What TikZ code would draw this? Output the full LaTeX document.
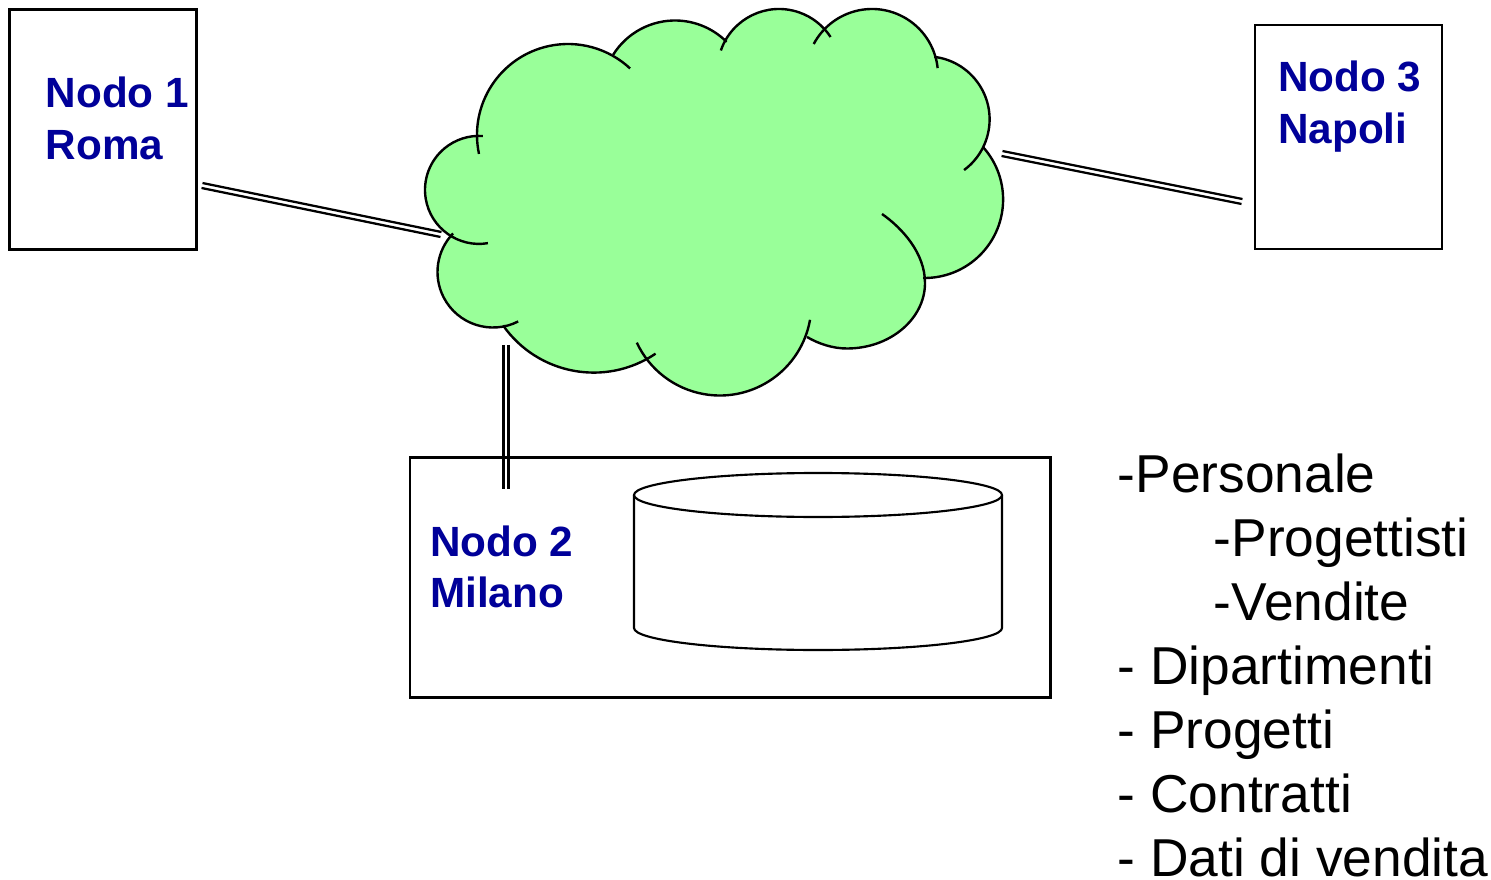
\documentclass[tikz,border=0pt]{standalone}
\usepackage{fontspec}
\usetikzlibrary{calc}
\setmainfont{Liberation Sans}
\definecolor{cloudgreen}{HTML}{99FF99}
\definecolor{nodeblue}{HTML}{000099}
\tikzset{
  x=0.75pt,y=-0.75pt,
  outline/.style={draw=black,line width=1.6pt,fill=white},
  cloudline/.style={draw=black,line width=1.8pt,line cap=butt},
  linkline/.style={draw=black,line width=1.7pt},
  sitebox/.style={outline,inner sep=0pt,outer sep=0pt,anchor=north west},
  sitelabel/.style={anchor=base west,inner sep=0pt,text=nodeblue,font=\fontsize{31.7}{39}\selectfont\bfseries},
  listitem/.style={anchor=base west,inner sep=0pt,font=\fontsize{40}{48}\selectfont},
}
\newcommand\lobe[5]{([shift={(#4:#3)}]#1,#2) arc[start angle=#4,end angle=#5,radius=#3]}
\newcommand\lobeA{\lobe{568}{135}{91}{168}{313}}
\newcommand\lobeB{\lobe{675}{93.5}{73}{212}{315}}
\newcommand\lobeC{\lobe{779}{70.5}{61.5}{199}{327}}
\newcommand\lobeD{\lobe{872}{75}{66}{208}{354}}
\newcommand\lobeE{\lobe{926.6}{119.4}{63}{277}{413.5}}
\newcommand\lobeF{\lobe{924.6}{199.5}{78.5}{318}{451}}
\newcommand\lobeG{(882,214) .. controls (902,228) and (925,253) .. (925,283) .. controls (925,319) and (890,348.5) .. (847,348.5) .. controls (833,348.5) and (819,344) .. (807,337)}
\newcommand\lobeH{\lobe{719.8}{303.9}{91.6}{10}{155}}
\newcommand\lobeI{\lobe{593.7}{262}{110.6}{56}{145}}
\newcommand\lobeJ{\lobe{493}{272}{55.5}{63}{224}}
\newcommand\lobeK{\lobe{479}{189.9}{54}{80.5}{274}}
\newcommand\linkpair[2]{%
  \draw[linkline] ($(#1)!1.9pt!90:(#2)$) -- ($(#2)!1.9pt!-90:(#1)$);
  \draw[linkline] ($(#1)!-1.9pt!90:(#2)$) -- ($(#2)!-1.9pt!-90:(#1)$);
}
\begin{document}
\begin{tikzpicture}
\useasboundingbox (0,0) rectangle (1491,880);
% boxes
\node[sitebox,minimum width=140.25pt,minimum height=180pt] (n1) at (9.5,9.5) {};
\node[sitebox,minimum width=140.25pt,minimum height=168pt] (n3) at (1255,25) {};
\node[sitebox,minimum width=480.4pt,minimum height=180pt] (n2) at (410,457.5) {};
% cloud fill
\fill[cloudgreen] \lobeA -- \lobeB -- \lobeC -- \lobeD -- \lobeE -- \lobeF -- \lobeG -- \lobeH -- \lobeI -- \lobeJ -- \lobeK -- cycle;
% cloud outline
\draw[cloudline] \lobeA;
\draw[cloudline] \lobeB;
\draw[cloudline] \lobeC;
\draw[cloudline] \lobeD;
\draw[cloudline] \lobeE;
\draw[cloudline] \lobeF;
\draw[cloudline] \lobeG;
\draw[cloudline] \lobeH;
\draw[cloudline] \lobeI;
\draw[cloudline] \lobeJ;
\draw[cloudline] \lobeK;
% cylinder
\draw[outline] (634,495) -- (634,628) arc[start angle=180,end angle=360,x radius=184,y radius=-22] -- (1002,495);
\draw[outline] (818,495) ellipse[x radius=184,y radius=22];
% links
\coordinate (l1a) at (202,185.5); \coordinate (l1b) at (441,234.5);
\coordinate (l3a) at (1002,153.5); \coordinate (l3b) at (1242,201.5);
\coordinate (l2a) at (506,345); \coordinate (l2b) at (506,489);
\linkpair{l1a}{l1b}
\linkpair{l3a}{l3b}
\linkpair{l2a}{l2b}
% labels
\node[sitelabel] (t1a) at (45.5,107.5) {Nodo 1};
\node[sitelabel] (t1b) at (45.5,159.5) {Roma};
\node[sitelabel] (t3a) at (1278,91.5) {Nodo 3};
\node[sitelabel] (t3b) at (1278,143.5) {Napoli};
\node[sitelabel] (t2a) at (430,556) {Nodo 2};
\node[sitelabel] (t2b) at (430,607.5) {Milano};
\node[listitem] (i1) at (1117.5,492) {-Personale};
\node[listitem] (i2) at (1213.5,556) {-Progettisti};
\node[listitem] (i3) at (1213.5,620) {-Vendite};
\node[listitem] (i4) at (1117.5,684) {- Dipartimenti};
\node[listitem] (i5) at (1117.5,748) {- Progetti};
\node[listitem] (i6) at (1117.5,812) {- Contratti};
\node[listitem] (i7) at (1117.5,876) {- Dati di vendita};
\end{tikzpicture}
\end{document}
